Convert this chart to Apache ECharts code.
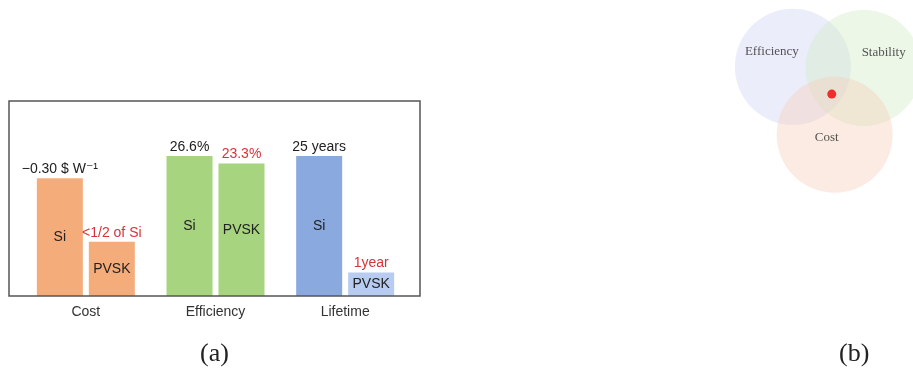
<!DOCTYPE html>
<html>
<head>
<meta charset="utf-8">
<script src="https://cdn.jsdelivr.net/npm/echarts@6/dist/echarts.min.js"></script>
<style>html,body{margin:0;padding:0;background:#fff;}#c{width:913px;height:370px;}</style>
</head>
<body>
<div id="c"></div>
<script>
// ---- data (a): bar heights as relative share of the frame height (%) ----
const categories = ['Cost', 'Efficiency', 'Lifetime'];
const siValues = [60.4, 71.8, 71.8];
const pvskValues = [27.8, 68.0, 12.0];
const siTopLabels = ['\u22120.30 $ W\u207B\u00B9', '26.6%', '25 years'];
const pvskTopLabels = ['<1/2 of Si', '23.3%', '1year'];
const siColors = ['#F4AC7B', '#A6D47F', '#8AA9DF'];
const pvskColors = ['#F4AC7B', '#A6D47F', '#B8CBF0'];

// ---- data (b): venn circles (unit = circle radius) ----
const vennNames = ['Efficiency', 'Stability', 'Cost'];
const vennX = [0, 1.22, 0.72];
const vennY = [0, -0.02, -1.17];
const vennColors = ['rgba(205,211,242,0.5)', 'rgba(208,234,196,0.5)', 'rgba(247,205,184,0.5)'];
const vennLabelOffsets = [[-21, -15], [20, -15], [-8, 3]];
const dotX = [0.67];
const dotY = [-0.47];

const sans = '"Liberation Sans", "DejaVu Sans", Arial, sans-serif';
const serif = '"Liberation Serif", "DejaVu Serif", serif';

const chart = echarts.init(document.getElementById('c'), null, {renderer: 'canvas'});
chart.setOption({
  animation: false,
  backgroundColor: '#ffffff',
  title: [
    {text: '(a)', left: 195, top: 336,
     textStyle: {fontFamily: serif, fontSize: 26, fontWeight: 'normal', color: '#222'}},
    {text: '(b)', left: 834, top: 336,
     textStyle: {fontFamily: serif, fontSize: 26, fontWeight: 'normal', color: '#222'}}
  ],
  grid: [
    {left: 21, top: 101, width: 389, height: 195},
    {left: 9, top: 101, width: 411, height: 195, show: true, borderColor: '#555', borderWidth: 1.5, backgroundColor: 'transparent', z: 10},
    {left: 700, top: 0, width: 213, height: 212}
  ],
  xAxis: [
    {type: 'category', gridIndex: 0, data: categories,
     axisLine: {show: false}, axisTick: {show: false},
     axisLabel: {margin: 9, fontFamily: sans, fontSize: 14, color: '#333'}},
    {type: 'category', gridIndex: 0, data: categories, show: false},
    {type: 'value', gridIndex: 1, show: false},
    {type: 'value', gridIndex: 2, show: false, min: -1.6, max: 2.07}
  ],
  yAxis: [
    {type: 'value', gridIndex: 0, min: 0, max: 100, show: false},
    {type: 'value', gridIndex: 1, show: false},
    {type: 'value', gridIndex: 2, show: false, min: -2.5, max: 1.15}
  ],
  series: [
    {name: 'Si', type: 'bar', xAxisIndex: 0, yAxisIndex: 0, barWidth: 46, barGap: '13%',
     data: siValues.map((v, i) => ({value: v, itemStyle: {color: siColors[i]}})),
     label: {show: true, position: 'inside', formatter: 'Si', fontFamily: sans, fontSize: 14, color: '#222'}},
    {name: 'PVSK', type: 'bar', xAxisIndex: 0, yAxisIndex: 0, barWidth: 46, barGap: '13%',
     data: pvskValues.map((v, i) => ({value: v, itemStyle: {color: pvskColors[i]}})),
     label: {show: true, position: 'inside', formatter: 'PVSK', fontFamily: sans, fontSize: 14, color: '#222'}},
    {name: 'SiTop', type: 'bar', xAxisIndex: 1, yAxisIndex: 0, barWidth: 46, barGap: '13%',
     itemStyle: {color: 'transparent'}, silent: true,
     data: siValues,
     label: {show: true, position: 'top', distance: 2,
             formatter: p => siTopLabels[p.dataIndex], fontFamily: sans, fontSize: 14, color: '#222'}},
    {name: 'PVSKTop', type: 'bar', xAxisIndex: 1, yAxisIndex: 0, barWidth: 46, barGap: '13%',
     itemStyle: {color: 'transparent'}, silent: true,
     data: pvskValues,
     label: {show: true, position: 'top', distance: 2,
             formatter: p => pvskTopLabels[p.dataIndex], fontFamily: sans, fontSize: 14, color: '#D8323A'}},
    {name: 'Venn', type: 'scatter', xAxisIndex: 3, yAxisIndex: 2, symbol: 'circle', symbolSize: 116,
     data: vennNames.map((n, i) => ({
       name: n, value: [vennX[i], vennY[i]],
       itemStyle: {color: vennColors[i]},
       label: {offset: vennLabelOffsets[i]}
     })),
     label: {show: true, position: 'inside', formatter: '{b}', fontFamily: serif, fontSize: 13, color: '#2a2a2a'}},
    {name: 'Dot', type: 'scatter', xAxisIndex: 3, yAxisIndex: 2, symbol: 'circle', symbolSize: 9, z: 5,
     itemStyle: {color: '#F00000'},
     data: dotX.map((x, i) => [x, dotY[i]])}
  ]
});
</script>
</body>
</html>
